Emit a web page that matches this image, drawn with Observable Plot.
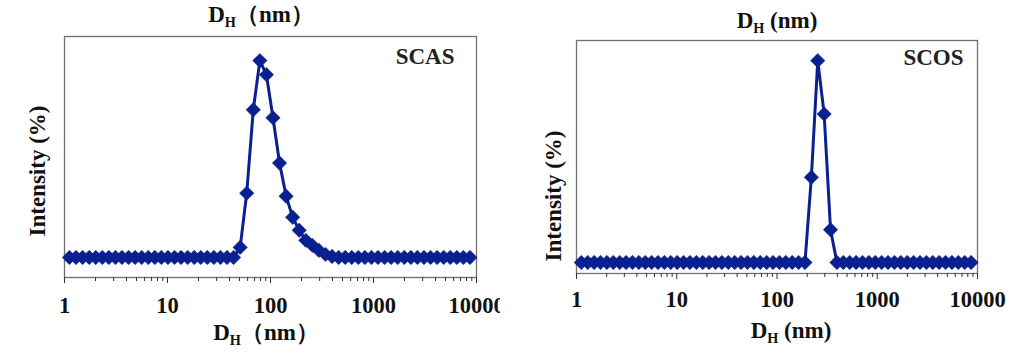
<!DOCTYPE html>
<html>
<head>
<meta charset="utf-8">
<script src="https://cdn.jsdelivr.net/npm/d3@7"></script>
<script src="https://cdn.jsdelivr.net/npm/@observablehq/plot@0.6"></script>
<style>
  html, body { margin: 0; padding: 0; background: #fff; }
  #root { position: relative; width: 1016px; height: 354px; overflow: hidden; background: #fff; }
  .panel { position: absolute; top: 0; }
  .lbl { position: absolute; font-family: "Liberation Serif", "Times New Roman", serif; font-weight: bold; color: #111; white-space: nowrap; transform: translate(-50%, -50%); font-size: 23px; line-height: 1; }
  .lbl sub { font-size: 0.62em; vertical-align: -0.4em; line-height: 0; }
  .rot { transform: translate(-50%, -50%) rotate(-90deg); }
</style>
</head>
<body>
<div id="root"></div>
<script>
// Hydrodynamic diameter bins (nm)
const sizes = [1.117, 1.294, 1.499, 1.736, 2.010, 2.328, 2.696, 3.122, 3.615, 4.187, 4.849, 5.615, 6.503, 7.531, 8.721,
  10.10, 11.70, 13.54, 15.69, 18.17, 21.04, 24.36, 28.21, 32.67, 37.84, 43.82, 50.75, 58.77, 68.06, 78.82, 91.28,
  105.7, 122.4, 141.8, 164.2, 190.1, 220.2, 255.0, 295.3, 342.0, 396.1, 458.7, 531.2, 615.1, 712.4, 825.0, 955.4,
  1106, 1281, 1484, 1718, 1990, 2305, 2669, 3091, 3580, 4145, 4801, 5560, 6439, 7456, 8635];

// Intensity (%) for SCAS
const scas = [0, 0, 0, 0, 0, 0, 0, 0, 0, 0, 0, 0, 0, 0, 0,
  0, 0, 0, 0, 0, 0, 0, 0, 0, 0, 0, 1.0, 6.4, 14.7, 19.6, 18.2,
  13.9, 9.4, 6.1, 4.0, 2.7, 1.7, 1.2, 0.7, 0.3, 0.1, 0, 0, 0, 0, 0, 0,
  0, 0, 0, 0, 0, 0, 0, 0, 0, 0, 0, 0, 0, 0, 0];

// Intensity (%) for SCOS
const scos = [0, 0, 0, 0, 0, 0, 0, 0, 0, 0, 0, 0, 0, 0, 0,
  0, 0, 0, 0, 0, 0, 0, 0, 0, 0, 0, 0, 0, 0, 0, 0,
  0, 0, 0, 0, 0, 18.2, 43.1, 31.7, 7.0, 0, 0, 0, 0, 0, 0, 0,
  0, 0, 0, 0, 0, 0, 0, 0, 0, 0, 0, 0, 0, 0, 0];

const majorTicks = [1, 10, 100, 1000, 10000];
const minorMultipliers = [2, 3, 4, 5, 6, 7, 8, 9];
const sampleNames = ["SCAS", "SCOS"];

const color = "#0a2090";
const minorTicks = majorTicks.slice(0, -1).flatMap(d => minorMultipliers.map(m => d * m));

function panel(values, name, opts) {
  const data = sizes.map((s, i) => ({size: s, intensity: values[i]}));
  return Plot.plot({
    width: opts.width, height: 354,
    marginLeft: opts.ml, marginRight: opts.mr, marginTop: opts.mt, marginBottom: opts.mb,
    style: {fontFamily: "Liberation Serif, Times New Roman, serif", fontWeight: "bold", fontSize: "22px", color: "#111", background: "white", overflow: "visible"},
    x: {type: "log", domain: [1, 10000]},
    y: {domain: opts.ydomain, axis: null},
    marks: [
      Plot.frame({stroke: "#707070", strokeWidth: 1.3}),
      Plot.axisX({ticks: minorTicks, tickSize: 4, tickFormat: () => "", label: null, stroke: "#333"}),
      Plot.axisX({ticks: majorTicks, tickSize: 6, tickPadding: opts.pad, tickFormat: d => String(d), label: null, stroke: "#333", fill: "#111", fontSize: 22.5, fontWeight: "bold"}),
      Plot.line(data, {x: "size", y: "intensity", stroke: color, strokeWidth: 3}),
      Plot.dot(data, {x: "size", y: "intensity", symbol: "diamond2", r: 6.5, fill: color, stroke: color, strokeWidth: 0.5}),
      Plot.text([name], {frameAnchor: "top-right", textAnchor: "end", lineAnchor: "middle", dx: opts.ndx, dy: opts.ndy, fontSize: 23, fontWeight: "bold", fill: "#222"})
    ]
  });
}

const root = document.getElementById("root");

const left = panel(scas, sampleNames[0], {width: 500, ml: 64, mr: 24, mt: 36, mb: 77, ydomain: [-2.0, 22.0], pad: 14, ndx: -22, ndy: 20});
left.classList.add("panel"); left.style.left = "0px";
root.appendChild(left);

const right = panel(scos, sampleNames[1], {width: 516, ml: 76, mr: 39, mt: 40, mb: 81, ydomain: [-2.35, 47.4], pad: 12, ndx: -14, ndy: 17});
right.classList.add("panel"); right.style.left = "500px";
root.appendChild(right);

const labels = [
  {html: "D<sub>H</sub>（nm）", x: 261, y: 14, cls: ""},
  {html: "D<sub>H</sub>（nm）", x: 266, y: 332, cls: ""},
  {html: "Intensity (%)", x: 37, y: 171, cls: "rot"},
  {html: "D<sub>H</sub> (nm)", x: 777, y: 20, cls: ""},
  {html: "D<sub>H</sub> (nm)", x: 791, y: 330, cls: ""},
  {html: "Intensity (%)", x: 553, y: 196, cls: "rot"}
];
for (const l of labels) {
  const d = document.createElement("div");
  d.className = "lbl " + l.cls;
  d.innerHTML = l.html;
  d.style.left = l.x + "px";
  d.style.top = l.y + "px";
  root.appendChild(d);
}
</script>
</body>
</html>
